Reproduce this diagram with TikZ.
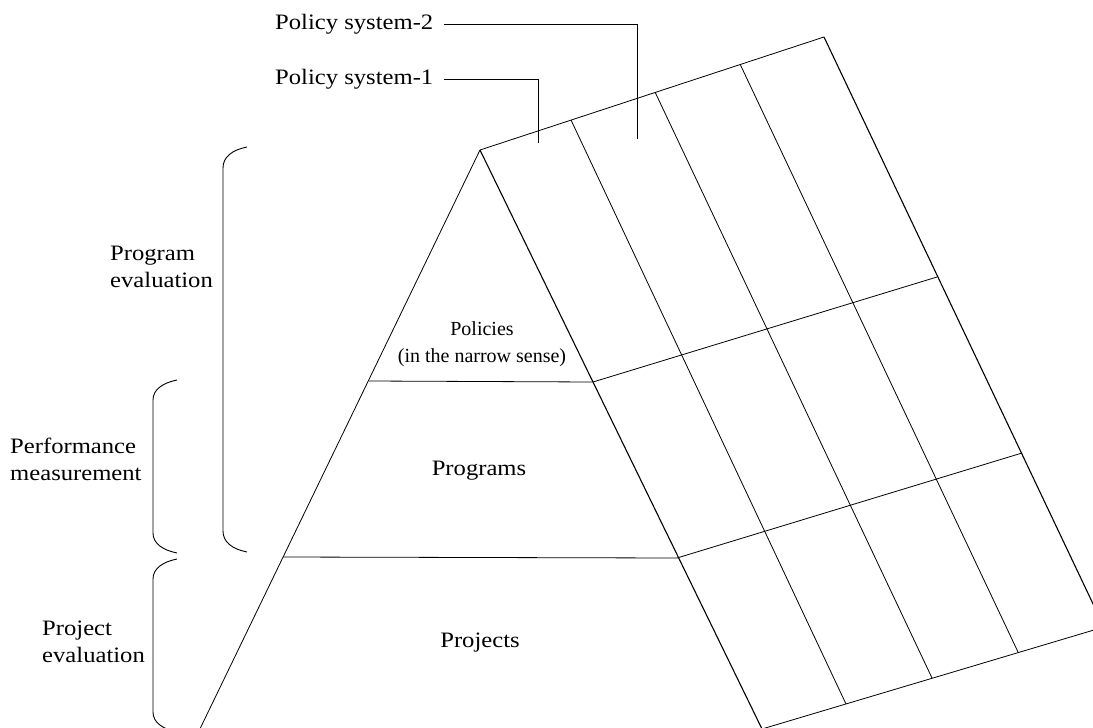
\documentclass[tikz,border=0pt]{standalone}
\usepackage{fontspec}
\setmainfont{Liberation Serif}[FakeStretch=1.12]
\newfontfamily\narrowfont{Liberation Serif}
\usepackage{tikz}
\usetikzlibrary{calc}

\begin{document}
\begin{tikzpicture}[x=1pt,y=-1pt,
  edge/.style={black,line width=1.1pt},
  grid/.style={black,line width=0.8pt},
  bracket/.style={black,line width=0.9pt},
  lbl/.style={inner sep=0pt,align=left,anchor=west,font=\fontsize{22}{27}\selectfont},
  ctr/.style={inner sep=0pt,align=center,font=\fontsize{22}{27}\selectfont}]

\useasboundingbox (0,0) rectangle (1093,728);
\clip (0,0) rectangle (1093,728);

% pyramid
\coordinate(A) at (480,150);
\coordinate(L) at (197,735);
\coordinate(B0) at (762,729);
\coordinate(PL) at (369,381);
\coordinate(PR) at (593,382);
\coordinate(QL) at (283,557);
\coordinate(QR) at (677,558);

% slab
\coordinate(T1) at (571,120);
\coordinate(T2) at (655,92);
\coordinate(T3) at (740,64);
\coordinate(T4) at (824,37);
\coordinate(B1) at (846,704);
\coordinate(B2) at (932,678);
\coordinate(B3) at (1018,652);
\coordinate(B4) at (1104,627);
\coordinate(R1) at (937,277);
\coordinate(R2) at (1022,453);

\draw[grid] (L) -- (A);
\draw[edge] (A) -- (B0);
\draw[grid] (PL) -- (PR);
\draw[grid] (QL) -- (QR);

\draw[grid] (A) -- (T4);
\draw[edge] (T4) -- (B4);
\draw[grid] (B0) -- (B4);
\draw[grid] (T1) -- (B1);
\draw[grid] (T2) -- (B2);
\draw[grid] (T3) -- (B3);
\draw[grid] (PR) -- (R1);
\draw[grid] (QR) -- (R2);

\node[ctr,font=\narrowfont\fontsize{20}{27}\selectfont] (pol) at (482,344) {Policies\\(in the narrow sense)};
\node[ctr] (prog) at (479,471) {Programs};
\node[ctr] (proj) at (480,643) {Projects};

% policy systems
\node[lbl] (ps2) at (275,24) {Policy system-2};
\node[lbl] (ps1) at (275,79) {Policy system-1};
\coordinate(ps2end) at (637,139);
\coordinate(ps1end) at (538,143);
\draw[grid] ([xshift=10pt]ps2.east) -| (ps2end);
\draw[grid] ([xshift=10pt]ps1.east) -| (ps1end);

% brackets on the left
\draw[bracket] (247,147) .. controls (232,150) and (223,157) .. (223,168) -- (223,531)
  .. controls (223,542) and (232,549) .. (247,552);
\draw[bracket] (177,380) .. controls (162,383) and (153,390) .. (153,400) -- (153,533)
  .. controls (153,543) and (162,550) .. (177,553);
\draw[bracket] (177,559) .. controls (162,562) and (153,569) .. (153,579) -- (153,712)
  .. controls (153,722) and (162,729) .. (177,732);

\node[lbl] (pe) at (110,267) {Program\\evaluation};
\node[lbl] (pm) at (10,459) {Performance\\measurement};
\node[lbl] (pj) at (42,642) {Project\\evaluation};

\end{tikzpicture}
\end{document}
